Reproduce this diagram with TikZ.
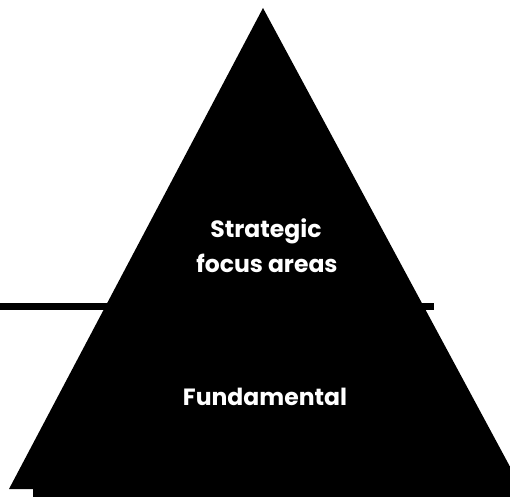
\documentclass[tikz,border=0pt]{standalone}
\usepackage{fontspec}
\setmainfont{Poppins}[BoldFont={* Bold}]
\begin{document}
\begin{tikzpicture}[x=1pt,y=-1pt,
  lbl/.style={text=white,font=\bfseries\fontsize{23.5}{35}\selectfont,align=center,inner sep=0pt}]
\useasboundingbox (0,0) rectangle (510,497);
\begin{scope}
\clip (0,0) rectangle (510,497);
\coordinate (L0) at (0,306);
\coordinate (L1) at (434,306);
\draw[line width=7pt] (L0) -- (L1);
\fill (263,8) -- (522,489) -- (9,489) -- cycle;
\fill (33,488) rectangle (510,497);
\end{scope}
\node[lbl,anchor=base] (s) at (266,237) {Strategic};
\node[lbl,anchor=base] (s2) at (267,272) {focus areas};
\node[lbl,anchor=base] (f) at (265,405) {Fundamental};
\end{tikzpicture}
\end{document}
